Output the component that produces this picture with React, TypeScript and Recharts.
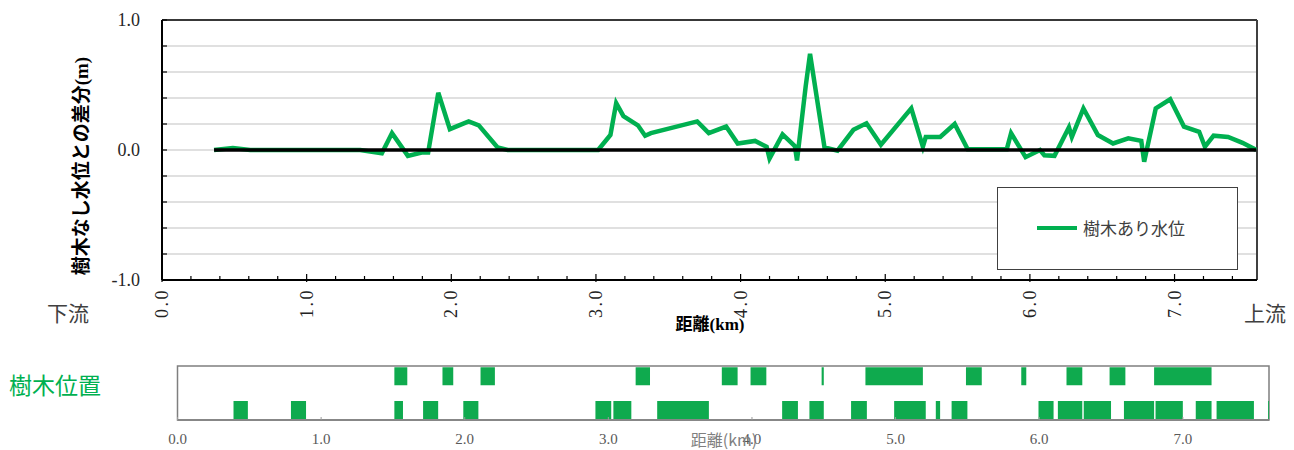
import {
  Bar,
  BarChart,
  CartesianGrid,
  Line,
  LineChart,
  ReferenceArea,
  ReferenceLine,
  XAxis,
  YAxis,
} from "recharts";

// 距離(km) of each computed point, with trees
const DIST_KM = [
  0.36, 0.49, 0.61, 1.37, 1.52, 1.59, 1.7, 1.795, 1.84, 1.91, 1.99, 2.12, 2.19,
  2.32, 2.39, 3.015, 3.1, 3.14, 3.19, 3.29, 3.34, 3.38, 3.7, 3.78, 3.9, 3.98,
  4.1, 4.18, 4.2, 4.29, 4.375, 4.39, 4.45, 4.48, 4.58, 4.67, 4.78, 4.87, 4.97,
  5.18, 5.26, 5.28, 5.38, 5.48, 5.57, 5.84, 5.87, 5.97, 6.07, 6.1, 6.17, 6.27,
  6.29, 6.37, 6.47, 6.575, 6.68, 6.77, 6.79, 6.87, 6.97, 7.065, 7.17, 7.21,
  7.27, 7.37, 7.47, 7.565,
];

// 樹木あり水位 - 樹木なし水位 (m)
const DIFF_M = [
  0, 0.015, 0, 0, -0.025, 0.13, -0.045, -0.02, -0.02, 0.44, 0.16, 0.22, 0.19,
  0.02, 0, 0, 0.115, 0.36, 0.26, 0.19, 0.11, 0.13, 0.22, 0.13, 0.18, 0.05,
  0.07, 0.025, -0.065, 0.12, 0.03, -0.08, 0.49, 0.74, 0.02, -0.005, 0.155,
  0.205, 0.04, 0.32, 0.025, 0.1, 0.1, 0.2, 0.005, 0.005, 0.13, -0.055, 0,
  -0.04, -0.045, 0.175, 0.1, 0.32, 0.115, 0.05, 0.09, 0.07, -0.09, 0.32, 0.39,
  0.18, 0.14, 0.025, 0.11, 0.1, 0.055, 0,
];

// 樹木なし (baseline) ends
const BASE_KM = [0.36, 7.565];
const BASE_M = [0, 0];

// 樹木位置: [start, end] km
const TREES_UPPER_ROW: [number, number][] = [
  [1.51, 1.6], [1.845, 1.92], [2.11, 2.21], [3.19, 3.29], [3.79, 3.9],
  [3.99, 4.1], [4.485, 4.5], [4.79, 5.19], [5.49, 5.6], [5.875, 5.91],
  [6.19, 6.3], [6.49, 6.6], [6.8, 7.2],
];
const TREES_LOWER_ROW: [number, number][] = [
  [0.39, 0.49], [0.79, 0.895], [1.51, 1.57], [1.71, 1.815], [1.99, 2.095],
  [2.91, 3.02], [3.035, 3.16], [3.34, 3.7], [4.21, 4.32], [4.4, 4.5],
  [4.69, 4.8], [4.99, 5.21], [5.28, 5.31], [5.39, 5.5], [5.995, 6.1],
  [6.13, 6.3], [6.31, 6.5], [6.59, 6.8], [6.81, 7.0], [7.09, 7.2],
  [7.235, 7.495], [7.594, 7.6],
];

const Y_TICKS = [-1, -0.8, -0.6, -0.4, -0.2, 0, 0.2, 0.4, 0.6, 0.8, 1];
const Y_LABELLED = [-1, 0, 1];
const X_MAJOR = [0, 1, 2, 3, 4, 5, 6, 7];
const X_MINOR = Array.from({ length: 38 }, (_, i) => Math.round(i * 2) / 10);

const GREEN = "#00B050";
const SERIF = "'Liberation Serif', 'Noto Sans CJK JP', serif";
const CJK = "'Noto Sans CJK JP', sans-serif";

const withTrees = DIST_KM.map((d, i) => ({ d, v: DIFF_M[i] }));
const noTrees = BASE_KM.map((d, i) => ({ d, v: BASE_M[i] }));
// vertical layout draws row 1 at the top
const treeBars = [
  ...TREES_UPPER_ROW.map((span) => ({ row: 1, span })),
  ...TREES_LOWER_ROW.map((span) => ({ row: 2, span })),
];

function DiffTick(props: any) {
  const { x, y, payload } = props;
  const v = payload.value;
  return (
    <g>
      <line x1={x} x2={x + 5} y1={y} y2={y} stroke="#000" strokeWidth={1.2} />
      {Y_LABELLED.includes(v) && (
        <text
          x={x - 22}
          y={y}
          textAnchor="end"
          dominantBaseline="central"
          fontFamily={SERIF}
          fontSize={18}
          fill="#262626"
        >
          {v.toFixed(1)}
        </text>
      )}
    </g>
  );
}

function DistTick(props: any) {
  const { x, y, payload } = props;
  const v = payload.value;
  const major = X_MAJOR.includes(v);
  const ty = y + 8;
  return (
    <g>
      <line
        x1={x}
        x2={x}
        y1={y + (major ? 2 : 0)}
        y2={y - (major ? 6 : 4)}
        stroke="#000"
        strokeWidth={1.2}
      />
      {major && (
        <text
          x={x}
          y={ty}
          transform={`rotate(-90 ${x} ${ty})`}
          textAnchor="end"
          dominantBaseline="central"
          fontFamily={SERIF}
          fontSize={18}
          letterSpacing={2.5}
          fill="#222"
        >
          {v.toFixed(1)}
        </text>
      )}
    </g>
  );
}

function TreeTick(props: any) {
  const { x, y, payload } = props;
  return (
    <g>
      <line x1={x} x2={x} y1={y} y2={y - 3} stroke="#9a9a9a" strokeWidth={1} />
      <text
        x={x}
        y={y + 19}
        textAnchor="middle"
        dominantBaseline="central"
        fontFamily={SERIF}
        fontSize={15}
        fill="#595959"
      >
        {payload.value.toFixed(1)}
      </text>
    </g>
  );
}

const abs = (left: number, top: number): React.CSSProperties => ({
  position: "absolute",
  left,
  top,
});

export default function App() {
  return (
    <div
      style={{
        position: "absolute",
        left: 0,
        top: 0,
        width: 1294,
        height: 450,
        background: "#fff",
        overflow: "hidden",
      }}
    >
      <div style={abs(0, 0)}>
        <LineChart
          width={1294}
          height={340}
          margin={{ top: 20, right: 37, left: 102, bottom: 20 }}
        >
          <CartesianGrid
            vertical={false}
            stroke="#d6d6d6"
            strokeWidth={1.5}
          />
          <XAxis
            type="number"
            dataKey="d"
            domain={[0, 7.57]}
            ticks={X_MINOR}
            interval={0}
            allowDataOverflow
            height={40}
            tickSize={0}
            tickMargin={0}
            tick={<DistTick />}
            axisLine={{ stroke: "#000", strokeWidth: 2 }}
          />
          <YAxis
            type="number"
            domain={[-1, 1]}
            ticks={Y_TICKS}
            interval={0}
            width={60}
            tickSize={0}
            tickMargin={0}
            tick={<DiffTick />}
            axisLine={{ stroke: "#000", strokeWidth: 2 }}
          />
          <ReferenceLine y={1} stroke="#000" strokeWidth={1.5} />
          <ReferenceLine x={7.57} stroke="#404040" strokeWidth={2} />
          <Line
            data={withTrees}
            dataKey="v"
            name="樹木あり水位"
            type="linear"
            stroke={GREEN}
            strokeWidth={4.5}
            dot={false}
            isAnimationActive={false}
          />
          <Line
            data={noTrees}
            dataKey="v"
            name="樹木なし水位"
            type="linear"
            stroke="#000"
            strokeWidth={3.5}
            dot={false}
            isAnimationActive={false}
          />
        </LineChart>
      </div>

      <div
        style={{
          ...abs(997, 187),
          width: 241,
          height: 83,
          boxSizing: "border-box",
          border: "1px solid #404040",
          background: "#fff",
        }}
      >
        <div
          style={{
            ...abs(39, 38),
            width: 40,
            height: 4,
            background: GREEN,
          }}
        />
        <div
          style={{
            ...abs(85, 27),
            fontFamily: CJK,
            fontSize: 17,
            lineHeight: "26px",
            color: "#404040",
            whiteSpace: "nowrap",
          }}
        >
          樹木あり水位
        </div>
      </div>

      <div
        style={{
          ...abs(-38, 154),
          width: 240,
          height: 24,
          lineHeight: "24px",
          textAlign: "center",
          transform: "rotate(-90deg)",
          fontFamily: SERIF,
          fontWeight: 700,
          fontSize: 19,
          color: "#000",
          whiteSpace: "nowrap",
        }}
      >
        樹木なし水位との差分(m)
      </div>

      <div
        style={{
          ...abs(47, 298),
          fontFamily: CJK,
          fontSize: 21,
          lineHeight: "28px",
          color: "#404040",
        }}
      >
        下流
      </div>
      <div
        style={{
          ...abs(1244, 298),
          fontFamily: CJK,
          fontSize: 21,
          lineHeight: "28px",
          color: "#404040",
        }}
      >
        上流
      </div>
      <div
        style={{
          ...abs(650, 313),
          width: 120,
          textAlign: "center",
          fontFamily: SERIF,
          fontWeight: 700,
          fontSize: 17,
          lineHeight: "24px",
          color: "#000",
        }}
      >
        距離(km)
      </div>

      <div
        style={{
          ...abs(9, 368),
          fontFamily: CJK,
          fontSize: 23,
          lineHeight: "32px",
          color: GREEN,
        }}
      >
        樹木位置
      </div>

      <div style={abs(0, 350)}>
        <BarChart
          layout="vertical"
          width={1294}
          height={100}
          data={treeBars}
          margin={{ top: 16, right: 25, left: 177.5, bottom: 0 }}
          barSize={18}
        >
          <XAxis
            type="number"
            domain={[0, 7.6]}
            ticks={X_MAJOR}
            interval={0}
            allowDataOverflow
            height={30}
            tickSize={0}
            tickMargin={0}
            tick={<TreeTick />}
            axisLine={{ stroke: "#7f7f7f", strokeWidth: 1.5 }}
          />
          <YAxis
            type="number"
            dataKey="row"
            domain={[0.7, 2.3]}
            ticks={[1, 2]}
            allowDataOverflow
            hide
          />
          <ReferenceArea
            x1={0}
            x2={7.6}
            y1={0.7}
            y2={2.3}
            fill="none"
            stroke="#7f7f7f"
            strokeWidth={1.5}
          />
          <Bar dataKey="span" fill="#0FAA4E" isAnimationActive={false} />
        </BarChart>
      </div>

      <div
        style={{
          ...abs(664, 427),
          width: 120,
          textAlign: "center",
          fontFamily: CJK,
          fontSize: 16,
          lineHeight: "24px",
          color: "#7f7f7f",
        }}
      >
        距離(km)
      </div>
    </div>
  );
}
